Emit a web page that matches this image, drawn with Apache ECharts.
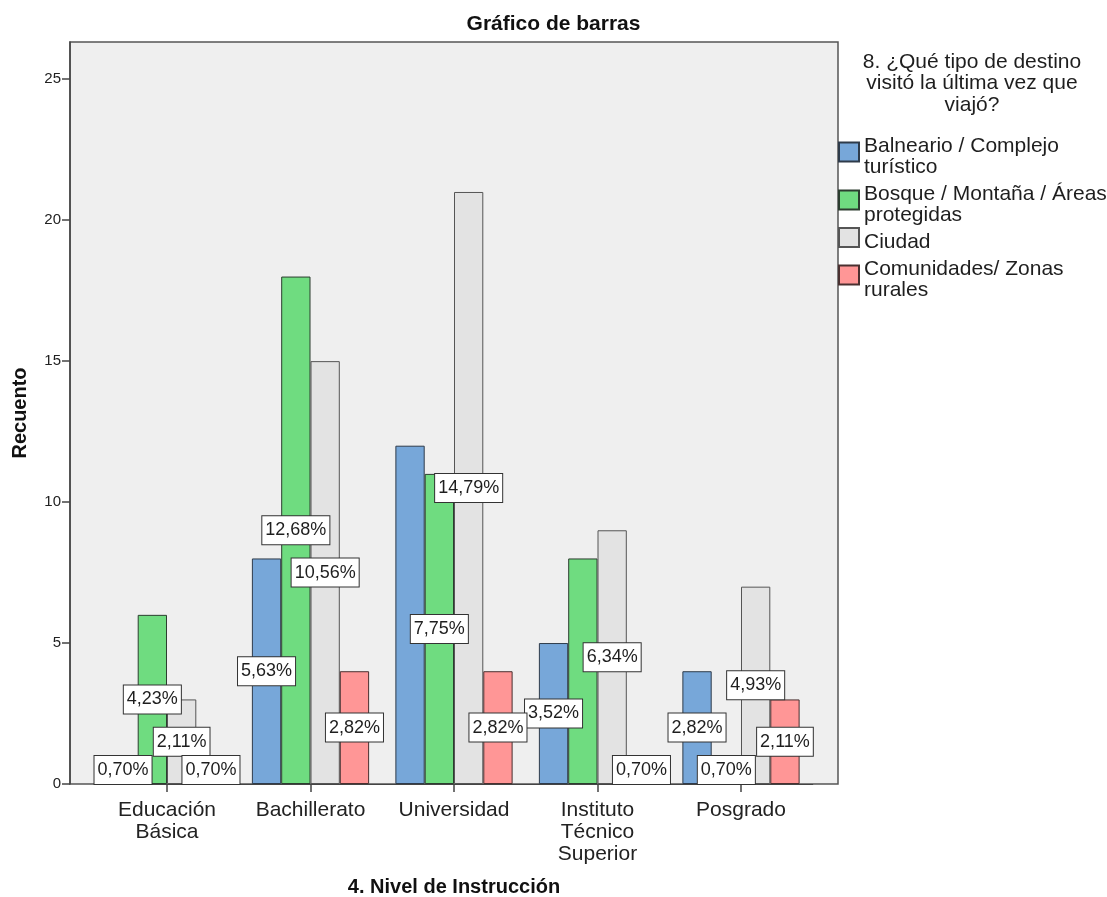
<!DOCTYPE html>
<html>
<head>
<meta charset="utf-8">
<title>Gráfico de barras</title>
<script src="https://cdn.jsdelivr.net/npm/echarts@6/dist/echarts.min.js"></script>
<style>
  html, body { margin: 0; padding: 0; background: #ffffff; }
  #chart { width: 1107px; height: 897px; }
</style>
</head>
<body>
<div id="chart"></div>
<script>
// Nivel de instrucción (eje X)
const categories = ['Educación Básica', 'Bachillerato', 'Universidad', 'Instituto Técnico Superior', 'Posgrado'];

// Recuento por tipo de destino
const balneario   = [1, 8, 12, 5, 4];
const bosque      = [6, 18, 11, 8, 1];
const ciudad      = [3, 15, 21, 9, 7];
const comunidades = [1, 4, 4, 1, 3];

const seriesNames = [
  'Balneario / Complejo turístico',
  'Bosque / Montaña / Áreas protegidas',
  'Ciudad',
  'Comunidades/ Zonas rurales'
];

// Etiquetas de leyenda en varias líneas
const legendLabels = [
  ['Balneario / Complejo', 'turístico'],
  ['Bosque / Montaña / Áreas', 'protegidas'],
  ['Ciudad'],
  ['Comunidades/ Zonas', 'rurales']
];

const yTicks = [0, 5, 10, 15, 20, 25];
const yMax = 26.32;

// Barras sin etiqueta de porcentaje: [serie, categoría]
const unlabeled = [[0, 2], [1, 3]];

const allSeries = [balneario, bosque, ciudad, comunidades];
const total = allSeries.reduce((s, arr) => s + arr.reduce((a, b) => a + b, 0), 0);

const colors = ['#77a7d9', '#6fdc80', '#e3e3e3', '#ff9696'];
const borders = ['#2e3b4a', '#2c3d2f', '#555555', '#4a3030'];
const FONT = '"Liberation Sans", Arial, sans-serif';

function pct(v) {
  return (v / total * 100).toFixed(2).replace('.', ',') + '%';
}

const chart = echarts.init(document.getElementById('chart'), null, { renderer: 'canvas' });

const series = allSeries.map((values, si) => ({
  name: seriesNames[si],
  type: 'bar',
  xAxisIndex: 1,
  yAxisIndex: 1,
  barGap: '0%',
  barCategoryGap: '18.3%',
  itemStyle: { color: colors[si], borderColor: borders[si], borderWidth: 1 },
  emphasis: { disabled: true },
  data: values.map((v, ci) => {
    const hide = unlabeled.some(p => p[0] === si && p[1] === ci);
    return hide ? { value: v, label: { show: false } } : v;
  }),
  label: {
    show: true,
    position: 'inside',
    formatter: p => pct(p.value),
    fontFamily: FONT,
    fontSize: 18,
    lineHeight: 19,
    color: '#1e1e1e',
    backgroundColor: '#ffffff',
    borderColor: '#333333',
    borderWidth: 1,
    padding: [5, 3, 4, 3]
  }
}));

const option = {
  animation: false,
  backgroundColor: '#ffffff',
  title: {
    text: 'Gráfico de barras',
    left: 'center',
    top: 12,
    padding: 0,
    textStyle: { fontFamily: FONT, fontSize: 21, fontWeight: 'bold', color: '#111', lineHeight: 24 }
  },
  graphic: [{
    type: 'text',
    x: 972,
    y: 51,
    style: {
      text: '8. ¿Qué tipo de destino\nvisitó la última vez que\nviajó?',
      align: 'center',
      verticalAlign: 'top',
      fontFamily: FONT,
      fontSize: 21,
      lineHeight: 21.5,
      fill: '#1e1e1e'
    }
  }],
  legend: {
    orient: 'vertical',
    left: 838,
    top: 126,
    padding: 0,
    itemWidth: 20,
    itemHeight: 19,
    itemGap: -4,
    icon: 'rect',
    selectedMode: false,
    formatter: name => legendLabels[seriesNames.indexOf(name)].map(s => '{t|' + s + '}').join('\n'),
    textStyle: {
      fontFamily: FONT, fontSize: 21, lineHeight: 21, color: '#1e1e1e', padding: [10, 0, 0, 0],
      rich: { t: { fontFamily: FONT, fontSize: 21, lineHeight: 21, color: '#1e1e1e' } }
    },
    data: seriesNames
  },
  grid: [
    { left: 70, right: 269, top: 42, bottom: 113, outerBoundsMode: 'none', containLabel: false,
      show: true, backgroundColor: '#efefef', borderColor: '#555555', borderWidth: 1.5 },
    { left: 95.25, right: 294.25, top: 42, bottom: 113, outerBoundsMode: 'none', containLabel: false }
  ],
  xAxis: [
    { gridIndex: 0, type: 'value', min: 0, max: 1, show: false },
    {
      gridIndex: 1,
      type: 'category',
      data: categories,
      name: '4. Nivel de Instrucción',
      nameLocation: 'middle',
      nameGap: 93,
      nameTextStyle: { fontFamily: FONT, fontSize: 20, fontWeight: 'bold', color: '#111' },
      axisLine: { show: true, lineStyle: { color: '#444', width: 1 } },
      axisTick: { show: true, alignWithLabel: true, length: 8, lineStyle: { color: '#444', width: 1.5 } },
      axisLabel: {
        formatter: v => v.split(' ').join('\n'),
        fontFamily: FONT,
        fontSize: 21,
        lineHeight: 22,
        color: '#222',
        margin: 15,
        interval: 0
      }
    }
  ],
  yAxis: [
    {
      gridIndex: 0,
      type: 'value',
      min: 0,
      max: yMax,
      name: 'Recuento',
      nameLocation: 'middle',
      nameRotate: 90,
      nameGap: 40,
      nameTextStyle: { fontFamily: FONT, fontSize: 20, fontWeight: 'bold', color: '#111' },
      splitLine: { show: false },
      axisLine: { show: true, lineStyle: { color: '#444', width: 1.5 } },
      axisTick: { show: true, length: 8, customValues: yTicks, lineStyle: { color: '#444', width: 1.5 } },
      axisLabel: { customValues: yTicks, fontFamily: FONT, fontSize: 15, color: '#222', margin: 9 }
    },
    { gridIndex: 1, type: 'value', min: 0, max: yMax, show: false, splitLine: { show: false } }
  ],
  series: series
};

chart.setOption(option);
</script>
</body>
</html>
